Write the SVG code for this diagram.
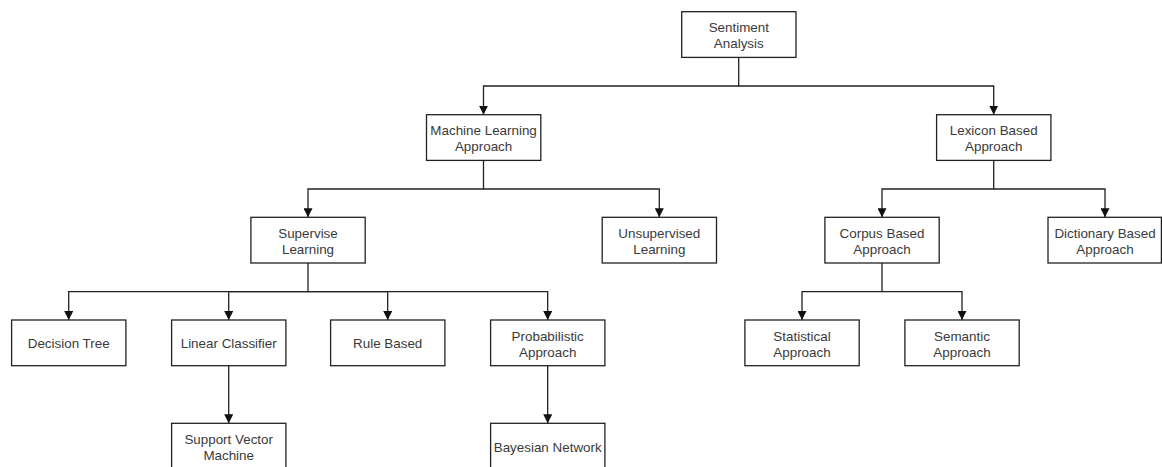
<svg xmlns="http://www.w3.org/2000/svg" width="1162" height="467" viewBox="0 0 1162 467">
<style>
.box{fill:#fff;stroke:#222;stroke-width:1.3}
.lbl{font-family:"Liberation Sans",Arial,sans-serif;font-size:13.4px;fill:#3a3a3a;text-anchor:middle}
.conn{fill:none;stroke:#222;stroke-width:1.3}
</style>
<defs>
<marker id="arr" viewBox="0 0 10 10" refX="10" refY="5" markerWidth="9" markerHeight="9" markerUnits="userSpaceOnUse" orient="auto">
<path d="M0,0 L10,5 L0,10 z" fill="#111"/>
</marker>
</defs>
<rect width="1162" height="467" fill="#fff"/>
<g id="connectors">
<path class="conn" d="M738.7,57.4 V86 H483.5 V114.7" marker-end="url(#arr)"/>
<path class="conn" d="M738.7,86 H993.7 V114.7" marker-end="url(#arr)"/>
<path class="conn" d="M483.5,160.4 V189 H308 V217.3" marker-end="url(#arr)"/>
<path class="conn" d="M483.5,189 H659.3 V217.3" marker-end="url(#arr)"/>
<path class="conn" d="M993.7,160.4 V189 H882 V217.3" marker-end="url(#arr)"/>
<path class="conn" d="M993.7,189 H1105 V217.3" marker-end="url(#arr)"/>
<path class="conn" d="M308,263 V291.7 H68.7 V320" marker-end="url(#arr)"/>
<path class="conn" d="M308,291.7 H228.7 V320" marker-end="url(#arr)"/>
<path class="conn" d="M308,291.7 H387.7 V320" marker-end="url(#arr)"/>
<path class="conn" d="M308,291.7 H547.7 V320" marker-end="url(#arr)"/>
<path class="conn" d="M882,263 V291.7 H802 V320" marker-end="url(#arr)"/>
<path class="conn" d="M882,291.7 H962 V320" marker-end="url(#arr)"/>
<path class="conn" d="M228.7,366 V423.3" marker-end="url(#arr)"/>
<path class="conn" d="M547.7,366 V423.3" marker-end="url(#arr)"/>
</g>
<g id="sentiment"><rect class="box" x="681.7" y="11.7" width="114.3" height="45.7"/><text class="lbl" x="738.8" y="32.3">Sentiment</text><text class="lbl" x="738.8" y="48.3">Analysis</text></g>
<g id="ml"><rect class="box" x="426.5" y="114.7" width="114.3" height="45.7"/><text class="lbl" x="483.6" y="135.3">Machine Learning</text><text class="lbl" x="483.6" y="151.3">Approach</text></g>
<g id="lexicon"><rect class="box" x="936.6" y="114.7" width="114.3" height="45.7"/><text class="lbl" x="993.7" y="135.3">Lexicon Based</text><text class="lbl" x="993.7" y="151.3">Approach</text></g>
<g id="supervise"><rect class="box" x="250.9" y="217.3" width="114.3" height="45.7"/><text class="lbl" x="308" y="237.9">Supervise</text><text class="lbl" x="308" y="253.9">Learning</text></g>
<g id="unsupervised"><rect class="box" x="602.2" y="217.3" width="114.3" height="45.7"/><text class="lbl" x="659.3" y="237.9">Unsupervised</text><text class="lbl" x="659.3" y="253.9">Learning</text></g>
<g id="corpus"><rect class="box" x="824.9" y="217.3" width="114.3" height="45.7"/><text class="lbl" x="882" y="237.9">Corpus Based</text><text class="lbl" x="882" y="253.9">Approach</text></g>
<g id="dictionary"><rect class="box" x="1048" y="217.3" width="113.4" height="45.7"/><text class="lbl" x="1105" y="237.9">Dictionary Based</text><text class="lbl" x="1105" y="253.9">Approach</text></g>
<g id="decision"><rect class="box" x="11.6" y="320" width="114.3" height="45.7"/><text class="lbl" x="68.7" y="348.3">Decision Tree</text></g>
<g id="linear"><rect class="box" x="171.6" y="320" width="114.3" height="45.7"/><text class="lbl" x="228.7" y="348.3">Linear Classifier</text></g>
<g id="rule"><rect class="box" x="330.6" y="320" width="114.3" height="45.7"/><text class="lbl" x="387.7" y="348.3">Rule Based</text></g>
<g id="probabilistic"><rect class="box" x="490.6" y="320" width="114.3" height="45.7"/><text class="lbl" x="547.7" y="340.6">Probabilistic</text><text class="lbl" x="547.7" y="356.6">Approach</text></g>
<g id="statistical"><rect class="box" x="744.9" y="320" width="114.3" height="45.7"/><text class="lbl" x="802" y="340.6">Statistical</text><text class="lbl" x="802" y="356.6">Approach</text></g>
<g id="semantic"><rect class="box" x="904.9" y="320" width="114.3" height="45.7"/><text class="lbl" x="962" y="340.6">Semantic</text><text class="lbl" x="962" y="356.6">Approach</text></g>
<g id="svm"><rect class="box" x="171.6" y="423.3" width="114.3" height="45.7"/><text class="lbl" x="228.7" y="443.9">Support Vector</text><text class="lbl" x="228.7" y="459.9">Machine</text></g>
<g id="bayesian"><rect class="box" x="490.6" y="423.3" width="114.3" height="45.7"/><text class="lbl" x="547.7" y="451.7">Bayesian Network</text></g>
</svg>
